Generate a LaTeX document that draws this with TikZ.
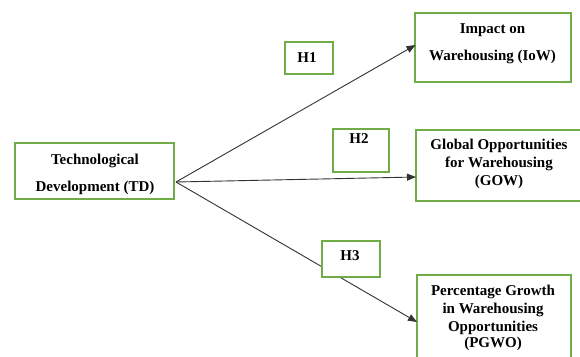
\documentclass[tikz,border=0pt]{standalone}
\usepackage{fontspec}
\setmainfont{Liberation Serif}
\usetikzlibrary{arrows.meta}
\definecolor{boxgreen}{RGB}{112,173,71}
\definecolor{linegray}{RGB}{50,50,50}
\tikzset{
  box/.style={draw=boxgreen, line width=1.6pt, fill=white, inner sep=0pt},
  txt/.style={font=\fontsize{15}{15}\selectfont\bfseries, anchor=base, inner sep=0pt},
  conn/.style={draw=linegray, line width=0.9pt, -{Triangle[length=9pt,width=7pt]}}
}
\begin{document}
\begin{tikzpicture}[x=1pt,y=-1pt]
\useasboundingbox (0,0) rectangle (580,356);
% main boxes
\node[box, minimum width=159pt, minimum height=56pt] (td) at (94.5,171) {};
\node[box, minimum width=156pt, minimum height=69pt] (iow) at (493,47.5) {};
\node[box, minimum width=166pt, minimum height=71pt] (gow) at (499,165.5) {};
\node[box, minimum width=154pt, minimum height=90pt] (pgwo) at (494,320) {};
% connectors
\coordinate (src) at (176,182);
\coordinate (iowin) at (415.5,45);
\coordinate (gowin) at (416,177);
\coordinate (pgwoin) at (417,322);
\draw[conn] (src) -- (iowin);
\draw[conn] (src) -- (gowin);
\draw[conn] (src) -- (pgwoin);
% hypothesis boxes (over the lines)
\node[box, minimum width=48pt, minimum height=32pt] (h1) at (309,58) {};
\node[box, minimum width=56pt, minimum height=43pt] (h2) at (361,150.5) {};
\node[box, minimum width=58pt, minimum height=36pt] (h3) at (351,259) {};
% texts
\node[txt] (tdt1) at (95,164) {Technological};
\node[txt] (tdt2) at (95,191) {Development (TD)};
\node[txt] (iowt1) at (492.5,33) {Impact on};
\node[txt] (iowt2) at (492.5,60) {Warehousing (IoW)};
\node[txt] (gowt1) at (499,149) {Global Opportunities};
\node[txt] (gowt2) at (499,167) {for Warehousing};
\node[txt] (gowt3) at (499,185) {(GOW)};
\node[txt] (pgt1) at (493,295) {Percentage Growth};
\node[txt] (pgt2) at (493,313) {in Warehousing};
\node[txt] (pgt3) at (493,331) {Opportunities};
\node[txt] (pgt4) at (493,347) {(PGWO)};
\node[txt] (h1t) at (307,62) {H1};
\node[txt] (h2t) at (359,143) {H2};
\node[txt] (h3t) at (350,260) {H3};
\end{tikzpicture}
\end{document}
